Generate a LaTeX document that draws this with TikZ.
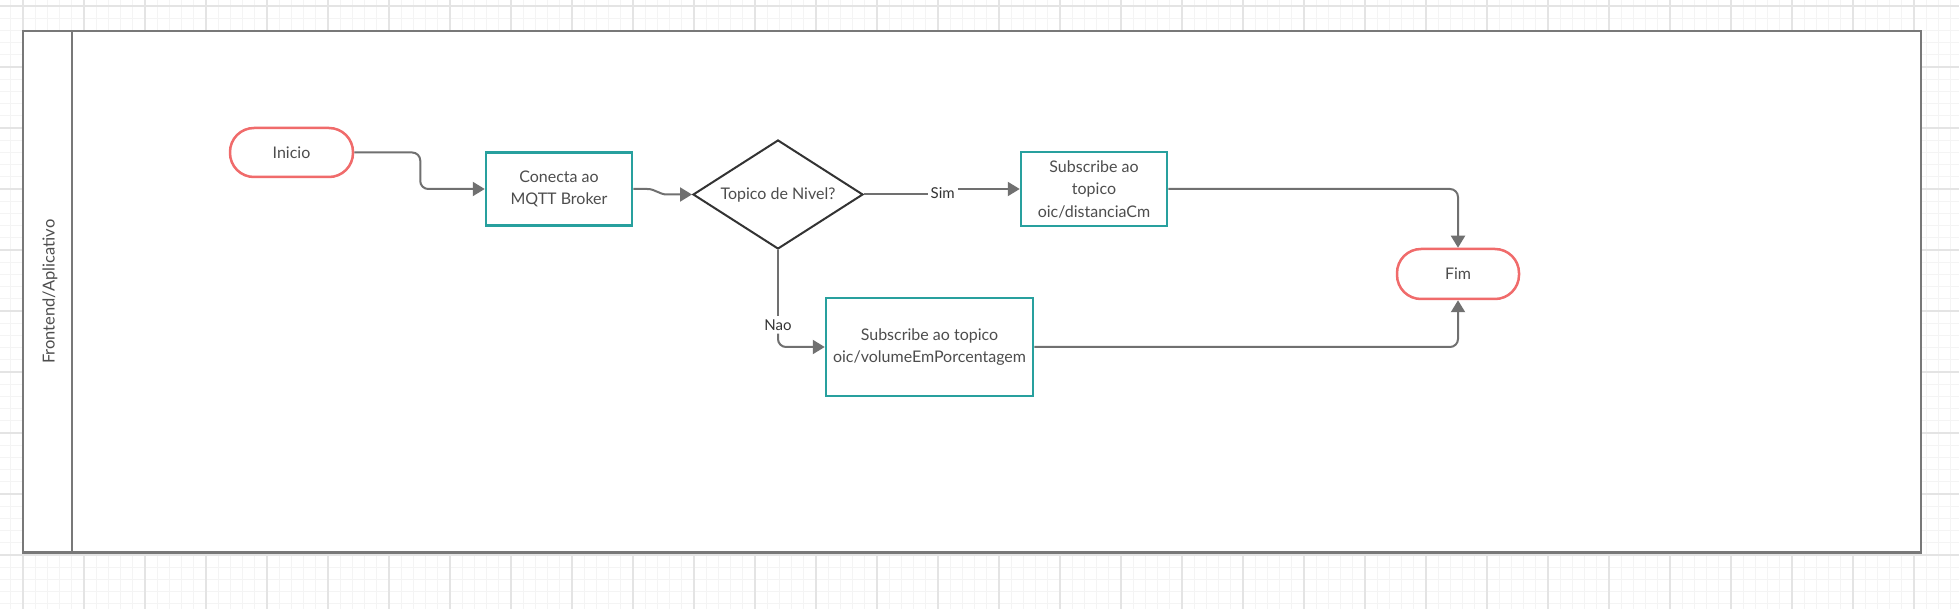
\documentclass[tikz,border=0pt]{standalone}
\usepackage{fontspec}
\setmainfont{Lato}
\usetikzlibrary{shapes.geometric,arrows.meta}

\definecolor{txtgray}{RGB}{77,77,77}
\definecolor{lblgray}{RGB}{51,51,51}
\definecolor{pillred}{RGB}{240,107,107}
\definecolor{boxteal}{RGB}{40,160,158}
\definecolor{linegray}{RGB}{112,112,112}
\definecolor{darkline}{RGB}{51,51,51}
\definecolor{lanegray}{RGB}{120,120,120}
\definecolor{gridminor}{RGB}{244,244,244}
\definecolor{gridmajor}{RGB}{228,228,228}

\tikzset{
  pill/.style={draw=pillred, line width=2.5pt, rounded corners=24pt, fill=white,
    minimum width=123pt, minimum height=49pt, text=txtgray,
    font=\fontsize{16}{22}\selectfont},
  procbox/.style={draw=boxteal, line width=2.5pt, fill=white, align=center,
    inner sep=3pt, text=txtgray, font=\fontsize{16}{22.5}\selectfont},
  decision/.style={diamond, draw=darkline, line width=2pt, fill=white, aspect=1.56,
    minimum width=170pt, minimum height=109pt, inner sep=0pt, text=txtgray,
    font=\fontsize{16}{22}\selectfont},
  lbl/.style={text=lblgray, inner sep=3pt, font=\fontsize{15}{18}\selectfont},
  plain/.style={draw=linegray, line width=2pt},
  flow/.style={plain, rounded corners=8pt, -{Triangle[length=12pt,width=14pt]}}
}

\begin{document}
\begin{tikzpicture}[x=1pt,y=1pt]
\useasboundingbox (0,0) rectangle (1959,-609);

% background grid
\begin{scope}[shift={(23,-6)}]
\draw[gridminor, line width=1pt] (-23,-603) grid[step=12.2pt] (1936,6);
\draw[gridmajor, line width=1.2pt] (-23,-603) grid[step=61pt] (1936,6);
\end{scope}

% swimlane
\draw[lanegray, line width=2.5pt, fill=white] (23,-31) rectangle (1921,-552.5);
\draw[lanegray, line width=2pt] (72,-31) -- (72,-552.5);
\node[rotate=90, text=txtgray, font=\fontsize{16.5}{18}\selectfont] (lanelbl) at (50,-291.75) {Frontend/Aplicativo};

\node[pill] (ini) at (291.5,-152.5) {Inicio};
\node[procbox, minimum width=146pt, minimum height=73pt] (con) [right of=ini, node distance=267.5pt, yshift=-36.5pt] {Conecta ao\\MQTT Broker};
\node[decision] (top) [right of=con, node distance=219pt, yshift=-5.5pt] {Topico de Nivel?};
\node[procbox, minimum width=146pt, minimum height=74pt] (sub1) [right of=top, node distance=316pt, yshift=5.5pt] {Subscribe ao\\topico\\oic/distanciaCm};
\node[procbox, minimum width=207pt, minimum height=98pt] (sub2) [below of=top, node distance=152.5pt, xshift=151.5pt] {Subscribe ao topico\\oic/volumeEmPorcentagem};
\node[pill, minimum width=122pt, minimum height=50pt] (fim) [right of=sub1, node distance=364pt, yshift=-85pt] {Fim};

\node[lbl] (sim) [right of=top, node distance=164.7pt, yshift=1.5pt] {Sim};
\node[lbl] (nao) [below of=top, node distance=130.5pt] {Nao};

\draw[flow] (ini.east) -- ++(66,0) |- (con.west);
\draw[flow, sharp corners] (con.east) -- ++(14,0) to[out=0,in=180] ++(20,-5.5) -- (top.west);

\draw[plain] (top.east) -- (top.east -| sim.west);
\draw[flow] (sim.east |- sub1.west) -- (sub1.west);

\draw[plain] (top.south) -- (top.south |- nao.north);
\draw[flow] (nao.south) |- (sub2.west);

\draw[flow] (sub1.east) -| (fim.north);
\draw[flow] (sub2.east) -| (fim.south);
\end{tikzpicture}
\end{document}
